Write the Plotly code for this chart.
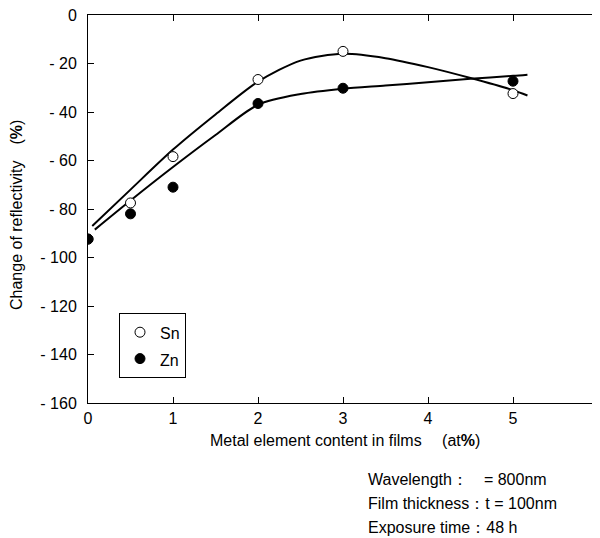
import plotly.graph_objects as go

# Measured points
sn_x = [0, 0.5, 1, 2, 3, 5]
sn_y = [-92.4, -77.5, -58.4, -26.6, -15.0, -32.4]
zn_x = [0, 0.5, 1, 2, 3, 5]
zn_y = [-92.4, -82.0, -71.0, -36.5, -30.2, -27.3]

# Fitted curves
sn_fit_x = [0.05, 0.5, 1, 1.5, 2, 2.5, 3, 3.5, 4, 4.5, 5, 5.17]
sn_fit_y = [-87.0, -72.0, -55.5, -41.0, -27.5, -18.8, -16.0, -17.8, -21.5, -26.0, -31.0, -33.2]
zn_fit_x = [0.08, 0.5, 1, 1.5, 2, 2.5, 3, 3.5, 4, 4.5, 5, 5.17]
zn_fit_y = [-88.5, -76.5, -62.7, -49.5, -37.0, -32.6, -30.4, -29.1, -27.7, -26.3, -25.1, -24.6]

x_ticks = [0, 1, 2, 3, 4, 5, 6]
y_ticks = [0, -20, -40, -60, -80, -100, -120, -140, -160]
y_tick_text = ["0", "- 20", "- 40", "- 60", "- 80", "- 100", "- 120", "- 140", "- 160"]

FONT = "Liberation Sans, Arial, sans-serif"

# page body has an 8px margin; figure coordinates are offset by that
OFF = 8
PL, PR, PT, PB = 88, 598, 15, 403  # plot area in window pixels
W, H = 600 - OFF, 538 - OFF

def px(xw):
    return (xw - PL) / (PR - PL)

def py(yw):
    return (PB - yw) / (PB - PT)

fig = go.Figure()
fig.add_trace(go.Scatter(x=sn_fit_x, y=sn_fit_y, mode="lines",
                         line=dict(color="black", width=2, shape="spline", smoothing=0.8),
                         showlegend=False, hoverinfo="skip"))
fig.add_trace(go.Scatter(x=zn_fit_x, y=zn_fit_y, mode="lines",
                         line=dict(color="black", width=2, shape="spline", smoothing=0.8),
                         showlegend=False, hoverinfo="skip"))
fig.add_trace(go.Scatter(x=sn_x, y=sn_y, mode="markers",
                         name="<span style='font-size:16px'>Sn</span>",
                         marker=dict(symbol="circle", size=10, color="white",
                                     line=dict(color="black", width=1))))
fig.add_trace(go.Scatter(x=zn_x, y=zn_y, mode="markers",
                         name="<span style='font-size:16px'>Zn</span>",
                         marker=dict(symbol="circle", size=10, color="black",
                                     line=dict(color="black", width=1))))

axis_common = dict(showgrid=False, zeroline=False, showline=True, linecolor="black",
                   linewidth=1, mirror="ticks", ticks="inside", ticklen=6,
                   tickcolor="black", tickwidth=1, ticklabeloverflow="allow",
                   automargin=False,
                   tickfont=dict(family=FONT, size=16, color="black"))

fig.update_xaxes(range=[0, 6], tickvals=x_ticks, ticklabelstandoff=1, **axis_common)
fig.update_yaxes(range=[-160, 0], tickvals=y_ticks, ticktext=y_tick_text,
                 ticklabelstandoff=7, **axis_common)

fig.update_layout(
    width=W, height=H,
    margin=dict(l=PL - OFF, r=W - (PR - OFF), t=PT - OFF, b=H - (PB - OFF)),
    plot_bgcolor="white", paper_bgcolor="white",
    font=dict(family=FONT, size=16, color="black"),
    legend=dict(x=px(119), y=py(313), xanchor="left", yanchor="top",
                bordercolor="black", borderwidth=1, bgcolor="white",
                font=dict(family=FONT, size=18, color="black"), tracegroupgap=0,
                itemwidth=30),
)

# axis titles
fig.add_annotation(text="Metal element content in films　 (at<b>%</b>)",
                   xref="paper", yref="paper", x=px(345), y=py(440),
                   xanchor="center", yanchor="middle", showarrow=False,
                   font=dict(family=FONT, size=16, color="black"))
fig.add_annotation(text="Change of reflectivity　(<b>%</b>)",
                   xref="paper", yref="paper", x=px(17), y=py(215),
                   xanchor="center", yanchor="middle", showarrow=False, textangle=-90,
                   font=dict(family=FONT, size=16, color="black"))

notes = ["Wavelength：　= 800nm", "Film thickness：t = 100nm", "Exposure time：48 h"]
for i, t in enumerate(notes):
    fig.add_annotation(text=t, xref="paper", yref="paper",
                       x=px(366), y=py(479 + i * 24),
                       xanchor="left", yanchor="middle", showarrow=False,
                       font=dict(family=FONT, size=16, color="black"))

fig.write_html("out.html")
